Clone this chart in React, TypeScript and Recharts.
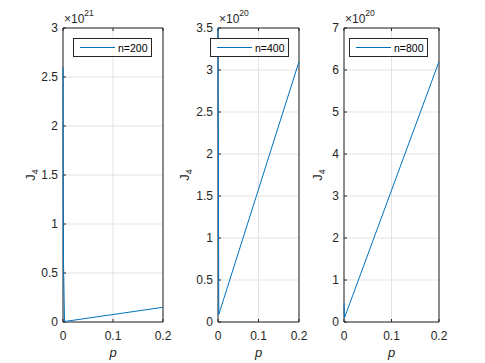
import { LineChart, Line, XAxis, YAxis, CartesianGrid, Legend } from "recharts";

const P_200 = [0, 0.001, 0.003, 0.2];
const J_200 = [2.6, 0.6, 0.005, 0.15];

const P_400 = [0, 0.002, 0.2];
const J_400 = [3.5, 0.09, 3.1];

const P_800 = [0, 0.001, 0.2];
const J_800 = [0.45, 0.1, 6.2];

const X_TICKS = [0, 0.1, 0.2];
const Y_TICKS_200 = [0, 0.5, 1, 1.5, 2, 2.5, 3];
const Y_TICKS_400 = [0, 0.5, 1, 1.5, 2, 2.5, 3, 3.5];
const Y_TICKS_800 = [0, 1, 2, 3, 4, 5, 6, 7];

const FONT = "'Liberation Sans', Arial, Helvetica, sans-serif";
const AXIS = "#262626";
const GRID = "#e3e3e3";
const BLUE = "#0072BD";
const TOP = 28;
const BOTTOM = 322;
const H = 363;

interface PanelProps {
  p: number[];
  j: number[];
  n: string;
  exp: string;
  yTicks: number[];
  plotLeft: number;
  plotRight: number;
  labelGap: number;
  legendDx: number;
}

function Panel({ p, j, n, exp, yTicks, plotLeft, plotRight, labelGap, legendDx }: PanelProps) {
  const data = p.map((v, i) => ({ p: v, j: j[i] }));
  const leftW = 60;
  const rightW = 10;
  const width = leftW + (plotRight - plotLeft) + rightW;
  const yMax = yTicks[yTicks.length - 1];

  return (
    <div style={{ position: "absolute", left: plotLeft - leftW, top: 0 }}>
      <LineChart width={width} height={H} data={data} margin={{ top: 0, right: 0, bottom: 0, left: 0 }}>
        <CartesianGrid stroke={GRID} strokeWidth={1} />
        <XAxis
          dataKey="p"
          type="number"
          domain={[0, 0.2]}
          ticks={X_TICKS}
          height={H - BOTTOM}
          stroke={AXIS}
          tickSize={-3}
          tickMargin={12.5}
          tick={{ fill: AXIS, fontSize: 12, fontFamily: FONT }}
          label={{
            content: (props: any) => {
              const vb = props.viewBox;
              return (
                <text x={vb.x + vb.width / 2} y={357} textAnchor="middle" fontSize={13} fontStyle="italic" fontFamily={FONT} fill={AXIS}>
                  p
                </text>
              );
            },
          }}
        />
        <XAxis
          xAxisId="top"
          orientation="top"
          dataKey="p"
          type="number"
          domain={[0, 0.2]}
          ticks={X_TICKS}
          height={TOP}
          stroke={AXIS}
          tickSize={-3}
          tickFormatter={() => ""}
          label={{
            content: () => (
              <text x={leftW + 1} y={23} fontSize={12} fontFamily={FONT} fill={AXIS}>
                ×10
                <tspan dy={-7} fontSize={8.5}>{exp}</tspan>
              </text>
            ),
          }}
        />
        <YAxis
          type="number"
          domain={[0, yMax]}
          ticks={yTicks}
          width={leftW}
          stroke={AXIS}
          tickSize={-3}
          tickMargin={8}
          tick={{ fill: AXIS, fontSize: 12, fontFamily: FONT }}
          label={{
            content: (props: any) => {
              const vb = props.viewBox;
              const cx = vb.x + vb.width - labelGap;
              const cy = vb.y + vb.height / 2;
              return (
                <text x={cx} y={cy + 4} textAnchor="middle" transform={`rotate(-90 ${cx} ${cy})`} fontSize={13} fontFamily={FONT} fill={AXIS}>
                  J
                  <tspan dy={3} fontSize={9}>4</tspan>
                </text>
              );
            },
          }}
        />
        <YAxis
          yAxisId="right"
          orientation="right"
          type="number"
          domain={[0, yMax]}
          ticks={yTicks}
          width={rightW}
          stroke={AXIS}
          tickSize={-3}
          tickFormatter={() => ""}
        />
        <Legend
          layout="vertical"
          align="center"
          verticalAlign="middle"
          wrapperStyle={{ left: leftW + legendDx, top: 38, width: 79, height: 19 }}
          content={() => (
            <div
              style={{
                boxSizing: "border-box",
                width: 79,
                height: 19,
                border: `1px solid ${AXIS}`,
                background: "#fff",
                display: "flex",
                alignItems: "center",
                fontFamily: FONT,
                fontSize: 10.5,
                color: "#000",
              }}
            >
              <span style={{ display: "inline-block", width: 35, height: 1, background: BLUE, marginLeft: 6, marginRight: 3 }} />
              <span>{n}</span>
            </div>
          )}
        />
        <Line dataKey="j" stroke={BLUE} strokeWidth={1} dot={false} isAnimationActive={false} zIndex={600} />
      </LineChart>
    </div>
  );
}

export default function App() {
  return (
    <div style={{ position: "absolute", left: 0, top: 0, width: 485, height: H, background: "#fff" }}>
      <Panel p={P_200} j={J_200} n="n=200" exp="21" yTicks={Y_TICKS_200} plotLeft={63} plotRight={163} labelGap={32} legendDx={10} />
      <Panel p={P_400} j={J_400} n="n=400" exp="20" yTicks={Y_TICKS_400} plotLeft={218} plotRight={299} labelGap={33} legendDx={-8} />
      <Panel p={P_800} j={J_800} n="n=800" exp="20" yTicks={Y_TICKS_800} plotLeft={344} plotRight={439} labelGap={26} legendDx={5} />
    </div>
  );
}
